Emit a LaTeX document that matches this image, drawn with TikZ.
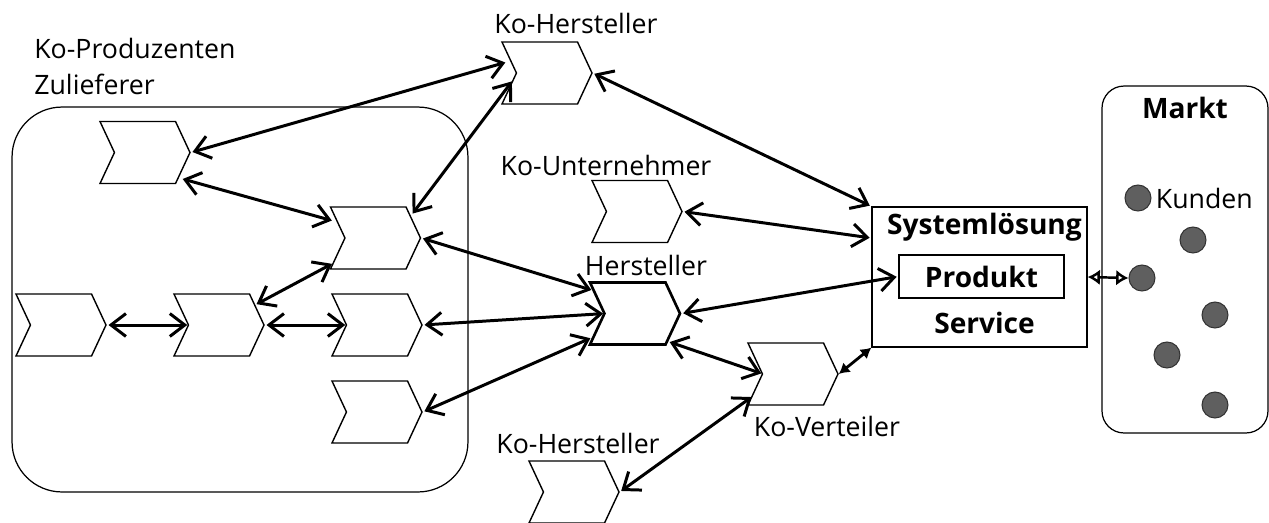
\documentclass[tikz,border=0pt]{standalone}
\usepackage{fontspec}
\setmainfont{Open Sans}
\usetikzlibrary{positioning, calc, shapes.symbols, arrows.meta}
\definecolor{cDot}{RGB}{95,95,95}

\begin{document}
\begin{tikzpicture}[x=0.02cm, y=-0.02cm,
chev/.style={signal, signal to=east, signal from=west, signal pointer angle=130, draw, fill=white, line width=0.8pt, minimum width=1.8cm, minimum height=1.24cm, inner sep=0pt},
mainchev/.style={chev, line width=1.5pt},
lab/.style={font=\fontsize{15.2}{20.5}\selectfont, inner sep=0pt, align=left},
bold/.style={font=\fontsize{16}{18}\selectfont\bfseries, inner sep=0pt},
post/.style={{Straight Barb[length=8.5pt,width=13pt]}-{Straight Barb[length=8.5pt,width=13pt]}, draw, line width=1.7pt, shorten >=1pt, shorten <=1pt},
short/.style={{Latex[length=6pt,width=7pt]}-{Latex[length=6pt,width=7pt]}, draw, line width=1.6pt},
hollow/.style={{Latex[open,length=7pt,width=9pt]}-{Latex[open,length=7pt,width=9pt]}, draw, line width=1.4pt},
kunde/.style={circle, fill=cDot, draw=black!80, line width=0.6pt, minimum size=0.52cm, inner sep=0pt},
group/.style={draw, line width=0.7pt, fill=none}]

\useasboundingbox (0,0) rectangle (1269,522);

\node[group, rounded corners=1cm, minimum width=9.12cm, minimum height=7.7cm] (zul) at (240,299.5) {};
\node[lab, anchor=west] (tzul) at (34,66) {Ko-Produzenten\\Zulieferer};

\node[chev] (C1) at (145,152.5) {};
\node[chev] (C2) at (375.5,238) {};
\node[chev] (C3) at (61,325) {};
\node[chev] (C4) at (219,325) {};
\node[chev] (C5) at (377,325) {};
\node[chev] (C6) at (377,412) {};

\node[chev] (KH1) at (547,73) {};
\node[lab, above=0.14cm of KH1, xshift=0.58cm] (tKH1) {Ko-Hersteller};
\node[chev] (KU) at (637,211.5) {};
\node[lab, above=0.08cm of KU, xshift=-0.62cm] (tKU) {Ko-Unternehmer};
\node[mainchev] (H) at (635,313.5) {};
\node[lab, above=0.1cm of H, xshift=0.22cm] (tH) {Hersteller};
\node[chev] (KV) at (793,374) {};
\node[lab, below=0.2cm of KV, xshift=0.68cm] (tKV) {Ko-Verteiler};
\node[chev] (KH2) at (574,492) {};
\node[lab, above=0.12cm of KH2, xshift=0.08cm] (tKH2) {Ko-Hersteller};

\node[group, minimum width=4.3cm, minimum height=2.8cm] (sys) at (979.5,277) {};
\node[bold, below=0.12cm of sys.north, xshift=0.1cm] (tsys) {Systemlösung};
\node[group, bold, minimum width=3.3cm, minimum height=0.86cm] (prod) at (981.5,276.5) {Produkt};
\node[bold, above=0.26cm of sys.south, xshift=0.1cm] (tserv) {Service};

\node[group, rounded corners=0.44cm, minimum width=3.32cm, minimum height=6.94cm] (markt) at (1185,259.5) {};
\node[bold, below=0.22cm of markt.north] (tmarkt) {Markt};
\foreach \p [count=\i] in {(1138,198),(1193,240),(1142,278),(1215,315),(1167,355),(1215,405)}
	\node[kunde] (d\i) at \p {};
\node[lab, right=0.08cm of d1] (tkunde) {Kunden};

\path[post] (C1.east) to ($(KH1)+(-40,-11)$);
\path[post] ($(C1)+(36,26)$) to ($(C2)+(-42,-17)$);
\path[post] ($(C2)+(36,-23)$) to ($(KH1)+(-34,7)$);
\path[post] (C2.east) to ($(H)+(-42,-23)$);
\path[post] ($(C2)+(-42,25)$) to ($(C4)+(36,-20)$);
\path[post] (C3.east) to ($(C4)+(-30,0)$);
\path[post] (C4.east) to ($(C5)+(-30,0)$);
\path[post] (C5.east) to ($(H)+(-30,0)$);
\path[post] (C6.east) to ($(H)+(-43,24)$);
\path[post] (H.east) to (prod.west);
\path[post] ($(H)+(33,28)$) to ($(KV)+(-30,0)$);
\path[post] ($(KV)+(-40,22)$) to (KH2.east);
\path[post] (KH1.east) to (sys.north west);
\path[post] (KU.east) to ($(sys.west)+(0,-39)$);
\path[short] (KV.east) to (sys.south west);
\path[hollow] (sys.east) to (d3.west);

\end{tikzpicture}
\end{document}
